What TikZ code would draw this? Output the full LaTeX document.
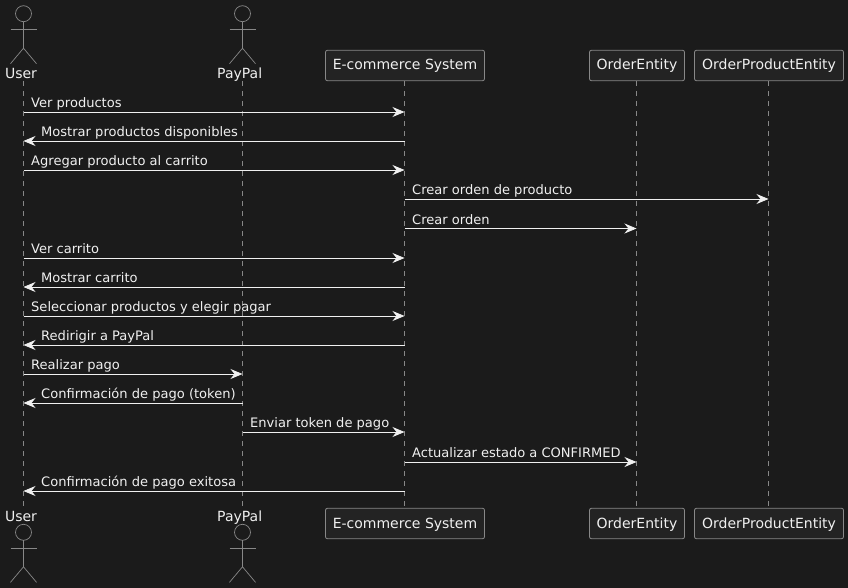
\documentclass[tikz,border=0pt]{standalone}
\usepackage{fontspec}
\setmainfont{DejaVu Sans}
\usetikzlibrary{arrows.meta}
\definecolor{bggray}{RGB}{27,27,27}
\definecolor{boxgray}{RGB}{35,35,35}
\definecolor{linegray}{RGB}{136,136,136}
\definecolor{textgray}{RGB}{240,240,240}

\tikzset{
	part/.style={draw=linegray,fill=boxgray,rounded corners=2pt,line width=0.8pt,text=textgray,minimum height=30.5pt,inner sep=0pt,text height=11pt,text depth=2pt,font=\fontsize{14}{16}\selectfont},
	actorname/.style={text=textgray,inner sep=0pt,minimum height=16pt,text height=11pt,text depth=0.4pt,font=\fontsize{14}{16}\selectfont},
	stick/.style={draw=linegray,line width=0.7pt},
	lifeline/.style={draw=linegray,line width=0.7pt,dash pattern=on 5pt off 5pt},
	msg/.style={draw=textgray,line width=0.8pt,-{Stealth[length=12pt,width=10pt,inset=4pt]}},
	msglabel/.style={text=textgray,anchor=base west,inner sep=0pt,font=\fontsize{13.05}{15}\selectfont}
}

\begin{document}
\begin{tikzpicture}[x=1pt,y=-1pt]
	\useasboundingbox[fill=bggray] (0,0) rectangle (848,588);

	% top row
	\coordinate (user) at (23.5,81);
	\coordinate (paypal) at (242.5,81);
	\coordinate (sys) at (404.5,81);
	\coordinate (order) at (636.5,81);
	\coordinate (prod) at (768.5,81);

	% bottom row
	\coordinate (userB) at (23.5,508);
	\coordinate (paypalB) at (242.5,508);
	\coordinate (sysB) at (404.5,508);
	\coordinate (orderB) at (636.5,508);
	\coordinate (prodB) at (768.5,508);

	\foreach \p in {user,paypal,sys,order,prod}
		\draw[lifeline] (\p) -- (\p B);

	\node[part,minimum width=159pt] (sysbox) at (405,65.5) {E-commerce System};
	\node[part,minimum width=95pt] (orderbox) at (637,65.5) {OrderEntity};
	\node[part,minimum width=149pt] (prodbox) at (769,65.5) {OrderProductEntity};
	\node[part,minimum width=159pt] (sysboxB) at (405,523.5) {E-commerce System};
	\node[part,minimum width=95pt] (orderboxB) at (637,523.5) {OrderEntity};
	\node[part,minimum width=149pt] (prodboxB) at (769,523.5) {OrderProductEntity};

	\node[actorname] (username) at (21,73) {User};
	\node[actorname] (paypalname) at (239.7,73) {PayPal};
	\node[actorname] (usernameB) at (21,516) {User};
	\node[actorname] (paypalnameB) at (239.7,516) {PayPal};

	% actors
	\foreach \x in {23.5,242.5}{
		\foreach \y in {13.7,532.3}{
			\draw[stick] (\x,\y) circle (8pt);
			\draw[stick] (\x,\y+8) -- (\x,\y+34.5);
			\draw[stick] (\x-13,\y+15.7) -- (\x+13,\y+15.7);
			\draw[stick] (\x-13,\y+50) -- (\x,\y+34.5) -- (\x+13,\y+50);
		}
	}

	% left to right
	\foreach \y/\a/\b/\txt in {112/user/sys/Ver productos,
			170/user/sys/Agregar producto al carrito,
			199/sys/prod/Crear orden de producto,
			228.5/sys/order/Crear orden,
			258/user/sys/Ver carrito,
			316/user/sys/Seleccionar productos y elegir pagar,
			374/user/paypal/Realizar pago,
			432/paypal/sys/Enviar token de pago,
			462/sys/order/Actualizar estado a CONFIRMED}{
		\draw[msg] (\a |- 0,\y) -- (\b |- 0,\y);
		\node[msglabel,xshift=7.5pt,yshift=4.3pt] (lab\y) at (\a |- 0,\y) {\txt};
	}

	% right to left
	\foreach \y/\a/\b/\txt in {141/sys/user/Mostrar productos disponibles,
			287/sys/user/Mostrar carrito,
			345/sys/user/Redirigir a PayPal,
			403/paypal/user/Confirmación de pago (token),
			491/sys/user/Confirmación de pago exitosa}{
		\draw[msg] (\a |- 0,\y) -- (\b |- 0,\y);
		\node[msglabel,xshift=17.5pt,yshift=4.3pt] (lab\y) at (\b |- 0,\y) {\txt};
	}
\end{tikzpicture}
\end{document}
